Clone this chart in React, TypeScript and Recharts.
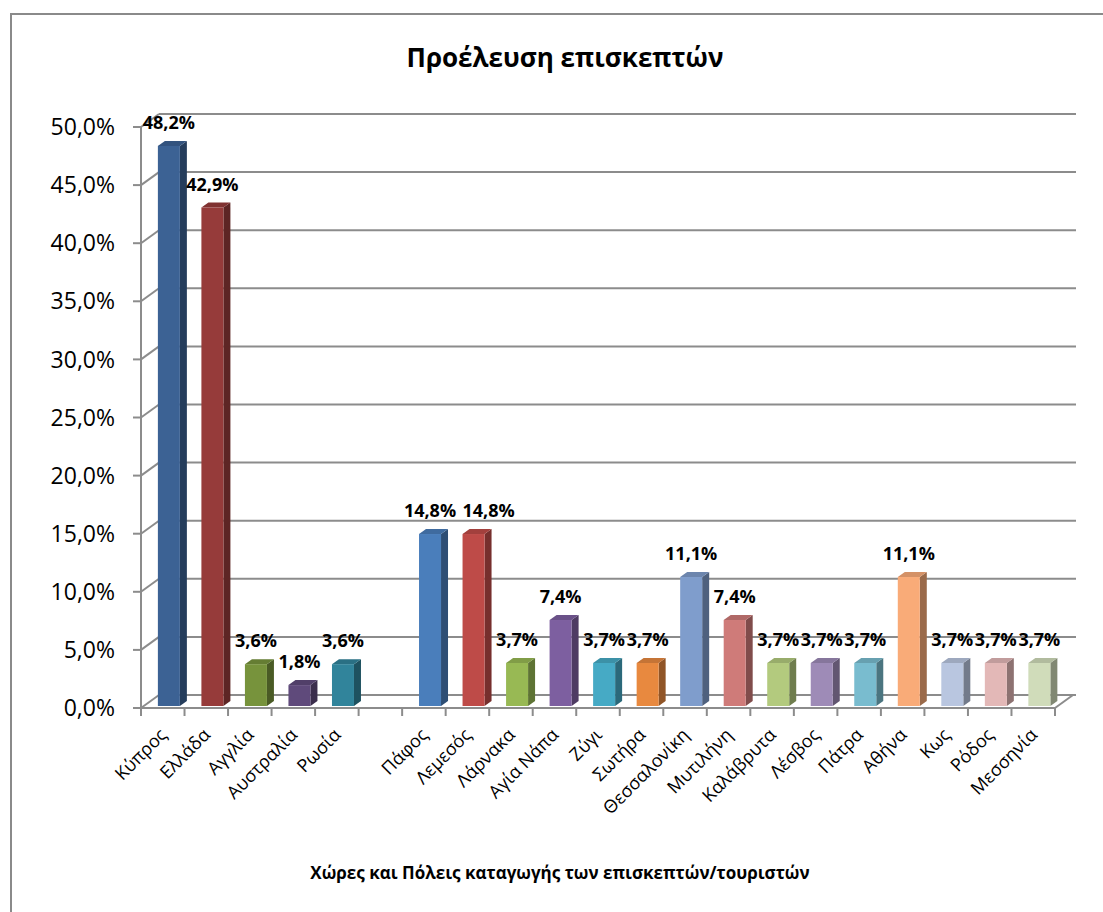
import { Bar, BarChart, CartesianGrid, Cell, LabelList, XAxis, YAxis } from "recharts"

const categories = [
  "Κύπρος", "Ελλάδα", "Αγγλία", "Αυστραλία", "Ρωσία", "",
  "Πάφος", "Λεμεσός", "Λάρνακα", "Αγία Νάπα", "Ζύγι", "Σωτήρα",
  "Θεσσαλονίκη", "Μυτιλήνη", "Καλάβρυτα", "Λέσβος", "Πάτρα", "Αθήνα",
  "Κως", "Ρόδος", "Μεσσηνία"
]

const shares = [
  48.2, 42.9, 3.6, 1.8, 3.6, null,
  14.8, 14.8, 3.7, 7.4, 3.7, 3.7,
  11.1, 7.4, 3.7, 3.7, 3.7, 11.1,
  3.7, 3.7, 3.7
]

const yTicks = [0, 5, 10, 15, 20, 25, 30, 35, 40, 45, 50]

const COLORS = [
  "#3C6294", "#963B3A", "#77933C", "#5F4A7B", "#31849B", "#ffffff",
  "#4A7EBB", "#BE4B48", "#98B954", "#7D5FA0", "#46AAC5", "#E8893F",
  "#7F9DCC", "#CF7B79", "#B3CA7E", "#9E8BB7", "#79BCCF", "#F9AB78",
  "#B9C6E0", "#E3B8B7", "#D0DCBA"
]

const data = categories.map((name, i) => ({ name, share: shares[i] }))

const FONT = "'Open Sans', sans-serif"
const GRID = "#8c8c8c"
// back wall offset (3d depth of the plot)
const WX = 18
const WY = -13
// front face shift of bars and their own depth
const SX = 6
const SY = -2
const BX = 7
const BY = -5
// excel pushed this label aside so it doesn't collide with its neighbour
const LABEL_NUDGE: Record<string, number> = { "Λεμεσός": 15 }

const fmt = (v: number) => v.toFixed(1).replace(".", ",") + "%"

function shade(hex: string, k: number) {
  const n = parseInt(hex.slice(1), 16)
  const r = Math.round(((n >> 16) & 255) * k)
  const g = Math.round(((n >> 8) & 255) * k)
  const b = Math.round((n & 255) * k)
  return `rgb(${r},${g},${b})`
}

function Bar3D(props: any) {
  const { x, y, width, height, fill } = props
  if (!height || height <= 0) return null
  const fx = x + SX
  const fy = y + SY
  const w = width
  const h = height
  return (
    <g>
      <path
        d={`M${fx + w},${fy} L${fx + w + BX},${fy + BY} L${fx + w + BX},${fy + h + BY} L${fx + w},${fy + h} Z`}
        fill={shade(fill, 0.62)}
      />
      <path
        d={`M${fx},${fy} L${fx + BX},${fy + BY} L${fx + w + BX},${fy + BY} L${fx + w},${fy} Z`}
        fill={shade(fill, 0.85)}
      />
      <rect x={fx} y={fy} width={w} height={h} fill={fill} />
    </g>
  )
}

function GridLine(props: any) {
  const { x1, x2, y1, y, height } = props
  const isFloor = Math.abs(y1 - (y + height)) < 0.5
  return (
    <g stroke={GRID} strokeWidth={2} fill="none">
      <line x1={x1} y1={y1} x2={x1 + WX} y2={y1 + WY} />
      <line x1={x1 + WX} y1={y1 + WY} x2={x2 + WX + 3} y2={y1 + WY} />
      {isFloor && <line x1={x2} y1={y1} x2={x2 + WX} y2={y1 + WY} />}
    </g>
  )
}

function CategoryTick(props: any) {
  const { x, y, payload } = props
  const half = payload.offset || 0
  const last = payload.index === categories.length - 1
  const ax = x + 5
  const ay = y + 28
  return (
    <g>
      <line x1={x - half} y1={y} x2={x - half} y2={y + 8} stroke={GRID} strokeWidth={2} />
      {last && <line x1={x + half} y1={y} x2={x + half} y2={y + 8} stroke={GRID} strokeWidth={2} />}
      <text
        x={ax}
        y={ay}
        transform={`rotate(-45 ${ax} ${ay})`}
        textAnchor="end"
        fontFamily={FONT}
        fontSize={18}
        fill="#000"
      >
        {payload.value}
      </text>
    </g>
  )
}

// LabelList is fed the category name, the share is looked up from it
function ValueLabel(props: any) {
  const { x, y, width, value } = props
  const idx = categories.indexOf(value)
  const share = idx >= 0 ? shares[idx] : null
  if (share == null) return null
  return (
    <text
      x={x + SX + width / 2 + (LABEL_NUDGE[value] || 0)}
      y={y + SY - 17}
      textAnchor="middle"
      fontFamily={FONT}
      fontWeight="bold"
      fontSize={18}
      fill="#000"
    >
      {fmt(share)}
    </text>
  )
}

export default function App() {
  return (
    <div style={{ position: "absolute", left: 0, top: 0, width: 1103, height: 912, overflow: "hidden", background: "#fff" }}>
      <div
        style={{
          position: "absolute", left: 10, top: 13, width: 1200, height: 1000,
          borderLeft: "2px solid #8a8a8a", borderTop: "2px solid #8a8a8a"
        }}
      />
      <div
        style={{
          position: "absolute", left: 0, top: 38, width: 1130, textAlign: "center",
          fontFamily: FONT, fontWeight: "bold", fontSize: 26, lineHeight: "38px"
        }}
      >
        Προέλευση επισκεπτών
      </div>
      <div
        style={{
          position: "absolute", left: 0, top: 860, width: 1120, textAlign: "center",
          fontFamily: FONT, fontWeight: "bold", fontSize: 17, lineHeight: "26px"
        }}
      >
        Χώρες και Πόλεις καταγωγής των επισκεπτών/τουριστών
      </div>
      <div style={{ position: "absolute", left: 0, top: 0 }}>
        <BarChart
          width={1103}
          height={912}
          data={data}
          margin={{ top: 127, right: 48, bottom: 0, left: 0 }}
          barCategoryGap="25%"
        >
          <CartesianGrid vertical={false} horizontal={GridLine} />
          <XAxis
            dataKey="name"
            height={204}
            tickSize={0}
            tickMargin={0}
            interval={0}
            axisLine={{ stroke: GRID, strokeWidth: 2 }}
            tickLine={false}
            tick={CategoryTick}
          />
          <YAxis
            width={141}
            domain={[0, 50]}
            ticks={yTicks}
            tickFormatter={fmt}
            tickSize={8}
            tickMargin={18}
            axisLine={{ stroke: GRID, strokeWidth: 2 }}
            tickLine={{ stroke: GRID, strokeWidth: 2 }}
            tick={{ fontFamily: FONT, fontSize: 23, fill: "#000" }}
          />
          <Bar dataKey="share" isAnimationActive={false} shape={Bar3D}>
            {data.map((_, i) => (
              <Cell key={`cell-${i}`} fill={COLORS[i]} />
            ))}
            <LabelList dataKey="name" content={ValueLabel} />
          </Bar>
        </BarChart>
      </div>
    </div>
  )
}
